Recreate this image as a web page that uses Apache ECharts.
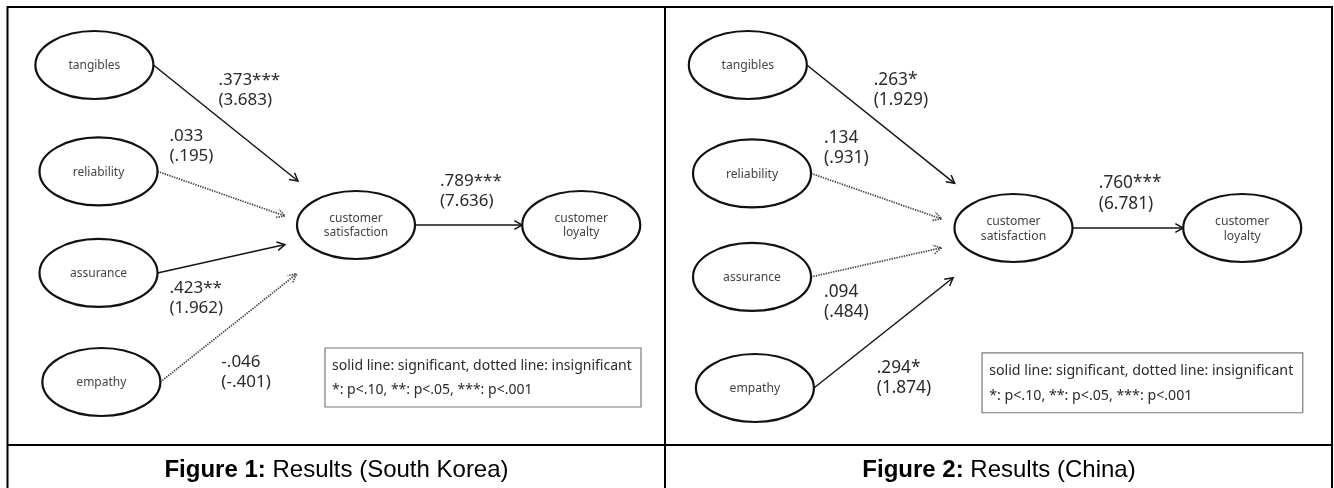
<!DOCTYPE html>
<html>
<head>
<meta charset="utf-8">
<script src="https://cdn.jsdelivr.net/npm/echarts@6/dist/echarts.min.js"></script>
<style>
  html, body { margin: 0; padding: 0; background: #fff; }
  #chart { width: 1334px; height: 488px; }
</style>
</head>
<body>
<div id="chart"></div>
<script>
// Structural model: four service-quality dimensions -> satisfaction -> loyalty
const dimensions = ['tangibles', 'reliability', 'assurance', 'empathy'];
const outcomes = ['customer\nsatisfaction', 'customer\nloyalty'];

// Path estimates (standardised coefficient, t-value, significance mark)
const koreaEstimates = ['.373', '.033', '.423', '-.046', '.789'];
const koreaTValues = ['3.683', '.195', '1.962', '-.401', '7.636'];
const koreaStars = ['***', '', '**', '', '***'];

const chinaEstimates = ['.263', '.134', '.094', '.294', '.760'];
const chinaTValues = ['1.929', '.931', '.484', '1.874', '6.781'];
const chinaStars = ['*', '', '', '*', '***'];

const panelTitles = ['Results (South Korea)', 'Results (China)'];
const noteLines = [
  'solid line: significant, dotted line: insignificant',
  '*: p<.10, **: p<.05, ***: p<.001'
];

// ---- layout (model units: column 0 = dimensions, 1 = satisfaction) ----
const nodeCol = [-0.014, 0.002, 0.002, 0.013, 1, 1.873];
const nodeRow = [0, 1.007, 1.968, 3, 1.514, 1.514];
const pathFrom = [0, 1, 2, 3, 4];
const pathTo = [4, 4, 4, 4, 5];

// arrow tip offsets from the target centre (px); null = touch target edge
const tipOffset = [[-58, -44], [-71, -9], [-71, 19.5], [-59.5, 49], null];
// label anchor offsets from the source centre (px)
const labelOffset = [[124, 15], [71, -35], [71, 15], [120, -20], [84, -44]];

const RX = 59, RY = 34;
const FONT = '"Noto Sans", "Open Sans", sans-serif';

const panels = [
  { grid: { left: 98, top: 65, width: 258, height: 317 }, k: 1,
    est: koreaEstimates, tv: koreaTValues, stars: koreaStars },
  { grid: { left: 751.5, top: 65, width: 262, height: 323 }, k: 1.015,
    est: chinaEstimates, tv: chinaTValues, stars: chinaStars }
];

function nodeRenderer(panel) {
  return function (params, api) {
    const p = api.coord([api.value(0), api.value(1)]);
    const i = params.dataIndex;
    const label = i < 4 ? dimensions[i] : outcomes[i - 4];
    return {
      type: 'group',
      children: [
        { type: 'ellipse', shape: { cx: p[0], cy: p[1], rx: RX, ry: RY },
          style: { fill: '#fff', stroke: '#111', lineWidth: 2.2 } },
        { type: 'text', x: p[0], y: p[1] + 1,
          style: { text: label, fill: '#444', fontSize: 12 * panel.k, fontFamily: FONT,
                   align: 'center', verticalAlign: 'middle', lineHeight: 14 * panel.k } }
      ]
    };
  };
}

function pathRenderer(panel) {
  return function (params, api) {
    const i = params.dataIndex;
    const s = api.coord([api.value(0), api.value(1)]);
    const t = api.coord([api.value(2), api.value(3)]);
    const k = panel.k;
    const x1 = s[0] + RX, y1 = s[1];
    let x2, y2;
    if (tipOffset[i]) { x2 = t[0] + tipOffset[i][0] * k; y2 = t[1] + tipOffset[i][1] * k; }
    else { x2 = t[0] - RX; y2 = t[1]; }
    const significant = panel.stars[i] !== '';
    const lineStyle = significant
      ? { stroke: '#151515', lineWidth: 1.5, fill: null }
      : { stroke: '#444', lineWidth: 1.7, lineDash: [1.4, 1.1], fill: null };
    const ang = Math.atan2(y2 - y1, x2 - x1);
    const L = 9, phi = 0.5;
    const a1 = [x2 - L * Math.cos(ang - phi), y2 - L * Math.sin(ang - phi)];
    const a2 = [x2 - L * Math.cos(ang + phi), y2 - L * Math.sin(ang + phi)];
    const lx = s[0] + labelOffset[i][0] * k;
    const ly = s[1] + labelOffset[i][1] * k;
    const lh = 20 * k;
    return {
      type: 'group',
      children: [
        { type: 'line', shape: { x1: x1, y1: y1, x2: x2, y2: y2 }, style: lineStyle },
        { type: 'polyline', shape: { points: [a1, [x2, y2], a2] }, style: lineStyle },
        { type: 'text', x: lx, y: ly - lh / 2,
          style: { text: panel.est[i] + panel.stars[i] + '\n(' + panel.tv[i] + ')',
                   fill: '#2a2a2a', fontSize: 17 * k, fontFamily: FONT,
                   align: 'left', verticalAlign: 'top', lineHeight: lh } }
      ]
    };
  };
}

function noteRenderer(panel) {
  return function (params, api) {
    const p = api.coord([api.value(0), api.value(1)]);
    const k = panel.k;
    const bx = p[0] - 31 * k, by = p[1] + 123 * k;
    return {
      type: 'group',
      children: [
        { type: 'rect', shape: { x: bx, y: by, width: 316 * k, height: 59 * k },
          style: { fill: '#fff', stroke: '#7a7a7a', lineWidth: 1.2 } },
        { type: 'text', x: bx + 7 * k, y: by + 18 * k,
          style: { text: noteLines[0], fill: '#2a2a2a', fontSize: 14 * k, fontFamily: FONT,
                   align: 'left', verticalAlign: 'middle' } },
        { type: 'text', x: bx + 7 * k, y: by + 42.5 * k,
          style: { text: noteLines[1], fill: '#2a2a2a', fontSize: 14 * k, fontFamily: FONT,
                   align: 'left', verticalAlign: 'middle' } }
      ]
    };
  };
}

const grids = [], xAxes = [], yAxes = [], series = [];
panels.forEach(function (panel, pi) {
  grids.push(panel.grid);
  xAxes.push({ type: 'value', gridIndex: pi, min: 0, max: 1, show: false });
  yAxes.push({ type: 'value', gridIndex: pi, min: 0, max: 3, inverse: true, show: false });
  series.push({
    type: 'custom', name: 'paths' + pi, xAxisIndex: pi, yAxisIndex: pi, clip: false, silent: true,
    data: pathFrom.map(function (f, i) {
      return [nodeCol[f], nodeRow[f], nodeCol[pathTo[i]], nodeRow[pathTo[i]]];
    }),
    renderItem: pathRenderer(panel), z: 2
  });
  series.push({
    type: 'custom', name: 'nodes' + pi, xAxisIndex: pi, yAxisIndex: pi, clip: false, silent: true,
    data: nodeCol.map(function (c, i) { return [c, nodeRow[i]]; }),
    renderItem: nodeRenderer(panel), z: 3
  });
  series.push({
    type: 'custom', name: 'note' + pi, xAxisIndex: pi, yAxisIndex: pi, clip: false, silent: true,
    data: [[nodeCol[4], nodeRow[4]]],
    renderItem: noteRenderer(panel), z: 3
  });
});

// table frame around the two figures and their captions
const frame = { stroke: '#000', lineWidth: 2 };
const CAP_FONT = '"Liberation Sans", Arial, sans-serif';
const graphics = [
  { type: 'line', shape: { x1: 7.5, y1: 7, x2: 1332, y2: 7 }, style: frame },
  { type: 'line', shape: { x1: 7.5, y1: 6, x2: 7.5, y2: 488 }, style: frame },
  { type: 'line', shape: { x1: 665, y1: 6, x2: 665, y2: 488 }, style: frame },
  { type: 'line', shape: { x1: 1332, y1: 6, x2: 1332, y2: 488 }, style: frame },
  { type: 'line', shape: { x1: 7.5, y1: 445, x2: 1332, y2: 445 }, style: frame }
];
[336.5, 999].forEach(function (cx, pi) {
  graphics.push({
    type: 'text', x: cx, y: 470,
    style: {
      text: '{b|Figure ' + (pi + 1) + ':} ' + panelTitles[pi],
      fill: '#000', fontSize: 24, fontFamily: CAP_FONT,
      align: 'center', verticalAlign: 'middle',
      rich: { b: { fontWeight: 'bold', fontSize: 24, fontFamily: CAP_FONT, fill: '#000' } }
    }
  });
});

const chart = echarts.init(document.getElementById('chart'), null, { renderer: 'canvas' });
chart.setOption({
  animation: false,
  backgroundColor: '#fff',
  grid: grids,
  xAxis: xAxes,
  yAxis: yAxes,
  series: series,
  graphic: graphics
});
</script>
</body>
</html>
